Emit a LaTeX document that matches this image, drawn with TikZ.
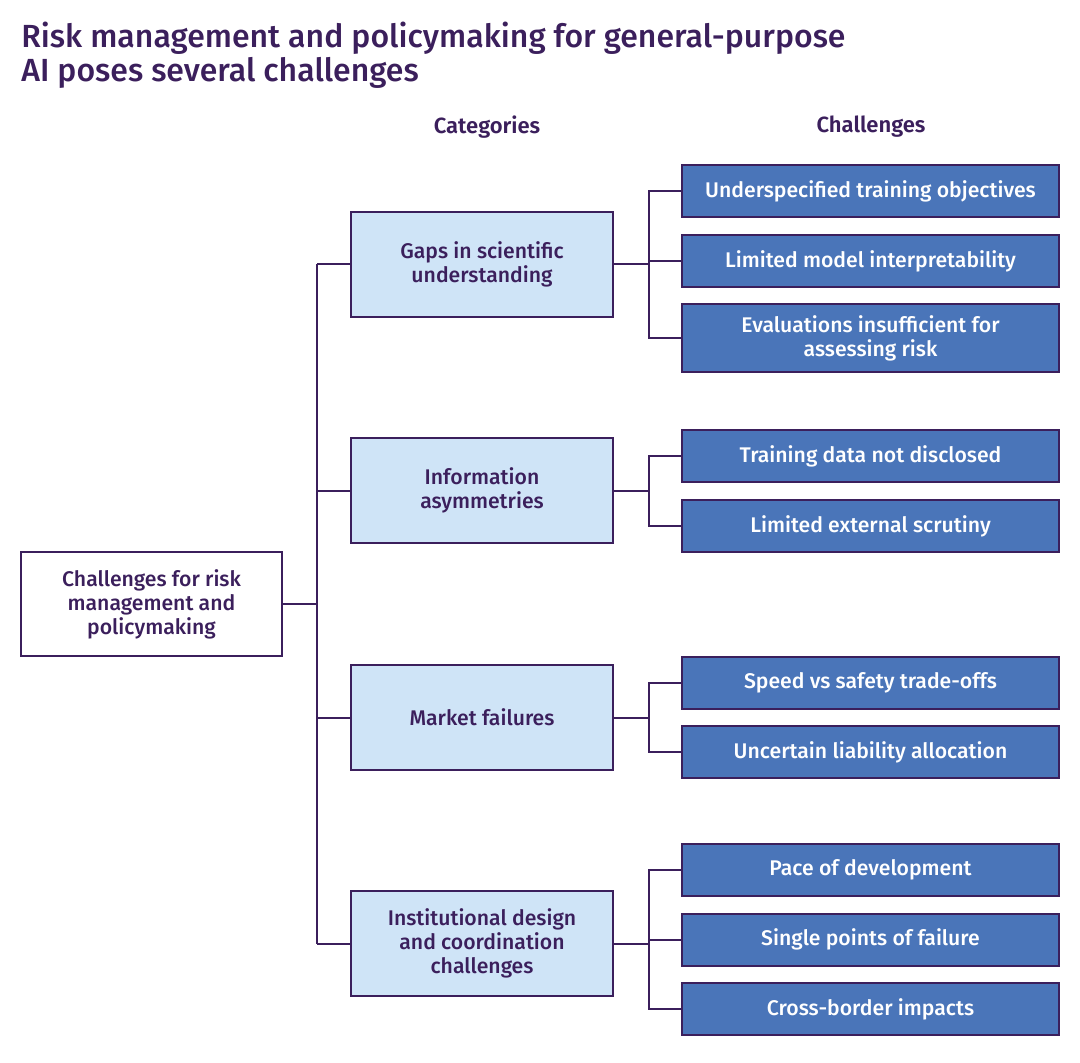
\documentclass[tikz,border=0pt]{standalone}
\usepackage{fontspec}
\setmainfont{Fira Sans}[UprightFont=* Medium, BoldFont=* SemiBold]
\usepackage{tikz}
\usetikzlibrary{positioning,calc}
\definecolor{ink}{HTML}{3B1F5C}
\definecolor{catfill}{HTML}{CFE4F7}
\definecolor{chfill}{HTML}{4A75B9}

\begin{document}
\begin{tikzpicture}[x=0.5pt,y=-0.5pt,
        box/.style={rectangle, draw=ink, line width=1pt, align=center, inner sep=0pt,
        font=\fontsize{10.6}{12}\selectfont},
        root/.style={box, fill=white, text=ink, minimum width=130.5pt, minimum height=52pt},
        category/.style={box, fill=catfill, text=ink, minimum width=131pt, minimum height=52.5pt},
        challenge/.style={box, fill=chfill, text=white, minimum width=188.5pt, minimum height=26pt},
        header/.style={text=ink, font=\fontsize{11}{12}\selectfont\bfseries},
        link/.style={draw=ink, line width=1pt}]
        \useasboundingbox (0,0) rectangle (1080,1063);

        % title
        \node (title) [anchor=north west, inner sep=0pt, align=left, text=ink,
            font=\fontsize{16}{17}\selectfont] at (21,22)
            {Risk management and policymaking for general-purpose\\AI poses several challenges};
        \node (hcat) [header] at (487,127) {Categories};
        \node (hch) [header] at (871,127) {Challenges};

        % root and categories
        \node (root) [root] at (151.5,604) {Challenges for risk\\management and\\policymaking};
        \node (gaps) [category] at (482,264.5) {Gaps in scientific\\understanding};
        \node (info) [category] at (482,490.5) {Information\\asymmetries};
        \node (market) [category] at (482,717.5) {Market failures};
        \node (inst) [category] at (482,943.5) {Institutional design\\and coordination\\challenges};

        % challenges
        \node (under) [challenge] at (870.5,191.5) {Underspecified training objectives};
        \node (interp) [challenge] at (870.5,261.5) {Limited model interpretability};
        \node (evals) [challenge, minimum height=34pt] at (870.5,338) {Evaluations insufficient for\\assessing risk};
        \node (data) [challenge] at (870.5,456) {Training data not disclosed};
        \node (scrutiny) [challenge] at (870.5,526) {Limited external scrutiny};
        \node (speed) [challenge] at (870.5,683) {Speed vs safety trade-offs};
        \node (liability) [challenge] at (870.5,752) {Uncertain liability allocation};
        \node (pace) [challenge] at (870.5,870) {Pace of development};
        \node (single) [challenge] at (870.5,939.5) {Single points of failure};
        \node (border) [challenge] at (870.5,1009) {Cross-border impacts};

        % trunk
        \coordinate (trunk) at (317,604);
        \draw[link] (root.east) -- (trunk);
        \draw[link] (trunk |- gaps.west) -- (trunk |- inst.west);
        \foreach \c in {gaps,info,market,inst}
            \draw[link] (trunk |- \c.west) -- (\c.west);

        % branches
        \foreach \c in {under,interp,evals}
            \draw[link] (gaps.east) -- ++(35,0) |- (\c.west);
        \foreach \c in {data,scrutiny}
            \draw[link] (info.east) -- ++(35,0) |- (\c.west);
        \foreach \c in {speed,liability}
            \draw[link] (market.east) -- ++(35,0) |- (\c.west);
        \foreach \c in {pace,single,border}
            \draw[link] (inst.east) -- ++(35,0) |- (\c.west);
    \end{tikzpicture}
\end{document}
